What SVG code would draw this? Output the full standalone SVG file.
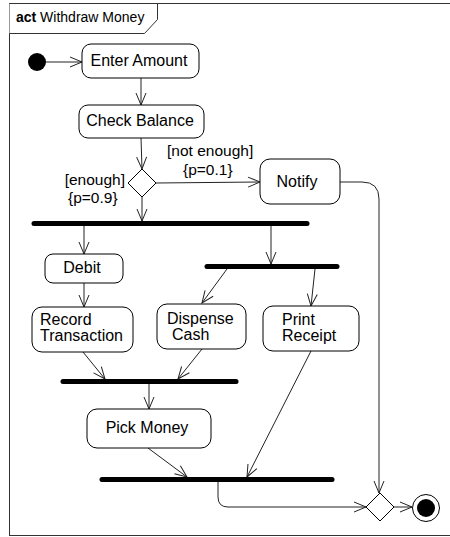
<svg xmlns="http://www.w3.org/2000/svg" width="450" height="537" viewBox="0 0 450 537">
<style>
text{font-family:"Liberation Sans",Arial,sans-serif;font-size:16px;fill:#000}
.g{font-size:15.5px}
.node{fill:#fff;stroke:#000;stroke-width:1}
.bar{stroke:#000;stroke-width:5;stroke-linecap:round}
.c{fill:none;stroke:#222;stroke-width:1;marker-end:url(#arr)}
</style>
<defs>
<marker id="arr" markerUnits="userSpaceOnUse" markerWidth="14" markerHeight="12" refX="12" refY="5" orient="auto" overflow="visible">
<path d="M0,0 L12,5 L0,10" fill="none" stroke="#222" stroke-width="1"/>
</marker>
</defs>
<rect x="0" y="0" width="450" height="537" fill="#fff"/>
<g id="frame">
<rect x="9.5" y="3.5" width="460" height="532" fill="none" stroke="#333" stroke-width="1"/>
<path d="M9.5,3.5 H157.5 V19.5 L144.5,33.5 H9.5" fill="#fff" stroke="#333" stroke-width="1"/>
<text x="16" y="22" style="font-size:14px"><tspan font-weight="bold">act</tspan> Withdraw Money</text>
</g>
<g id="connectors">
<line class="c" x1="46" y1="62" x2="82" y2="62"/>
<line class="c" x1="141" y1="78" x2="141" y2="105"/>
<line class="c" x1="141" y1="138" x2="142" y2="169"/>
<line class="c" x1="156" y1="183" x2="260" y2="182"/>
<line class="c" x1="142" y1="197" x2="142" y2="221"/>
<path class="c" d="M340,182 H362 Q379,182 379,199 V493"/>
<line class="c" x1="84" y1="226" x2="84" y2="254"/>
<line class="c" x1="271" y1="226" x2="271" y2="264"/>
<line class="c" x1="84" y1="283" x2="84" y2="307"/>
<line class="c" x1="227" y1="269" x2="202" y2="303"/>
<line class="c" x1="315" y1="269" x2="311" y2="306"/>
<line class="c" x1="83" y1="352" x2="105" y2="379"/>
<line class="c" x1="202" y1="349" x2="178" y2="379"/>
<line class="c" x1="149" y1="384" x2="149" y2="409"/>
<line class="c" x1="148" y1="448" x2="187" y2="477"/>
<line class="c" x1="311" y1="351" x2="247" y2="477"/>
<path class="c" d="M218,482 V497 Q218,507 228,507 H366"/>
<line class="c" x1="394" y1="507" x2="412" y2="507"/>
<text class="g" x="125" y="185" text-anchor="end">[enough]</text>
<text class="g" x="68" y="203">{p=0.9}</text>
<text class="g" x="167" y="156">[not enough]</text>
<text class="g" x="183" y="175">{p=0.1}</text>
</g>
<g id="initial"><circle cx="37" cy="62" r="9" fill="#000"/></g>
<g id="enterAmount"><rect class="node" x="82" y="44" width="117" height="34" rx="9"/><text x="139" y="66" text-anchor="middle">Enter Amount</text></g>
<g id="checkBalance"><rect class="node" x="79" y="105" width="125" height="33" rx="9"/><text x="140" y="126" text-anchor="middle">Check Balance</text></g>
<g id="decision"><path class="node" d="M142,169 L156,183 L142,197 L128,183 Z"/></g>
<g id="notify"><rect class="node" x="260" y="159" width="80" height="45" rx="10"/><text x="297" y="187" text-anchor="middle">Notify</text></g>
<g id="fork1"><line class="bar" x1="34" y1="223.5" x2="307" y2="223.5"/></g>
<g id="debit"><rect class="node" x="45" y="254" width="78" height="29" rx="8"/><text x="82" y="273" text-anchor="middle">Debit</text></g>
<g id="fork2"><line class="bar" x1="207" y1="266.5" x2="337" y2="266.5"/></g>
<g id="recordTransaction"><rect class="node" x="32" y="307" width="101" height="45" rx="10"/><text x="40" y="325">Record</text><text x="40" y="341">Transaction</text></g>
<g id="dispenseCash"><rect class="node" x="157" y="304" width="89" height="45" rx="10"/><text x="167" y="324">Dispense</text><text x="172" y="340">Cash</text></g>
<g id="printReceipt"><rect class="node" x="263" y="306" width="96" height="45" rx="10"/><text x="282" y="325">Print</text><text x="282" y="341">Receipt</text></g>
<g id="join1"><line class="bar" x1="63" y1="381.5" x2="236" y2="381.5"/></g>
<g id="pickMoney"><rect class="node" x="87" y="409" width="124" height="39" rx="10"/><text x="147" y="433" text-anchor="middle">Pick Money</text></g>
<g id="join2"><line class="bar" x1="102" y1="479.5" x2="332" y2="479.5"/></g>
<g id="merge"><path class="node" d="M380,493 L394,507 L380,521 L366,507 Z"/></g>
<g id="final"><circle cx="426" cy="508" r="13.5" fill="#fff" stroke="#000" stroke-width="1"/><circle cx="426" cy="508" r="9" fill="#000"/></g>
</svg>
